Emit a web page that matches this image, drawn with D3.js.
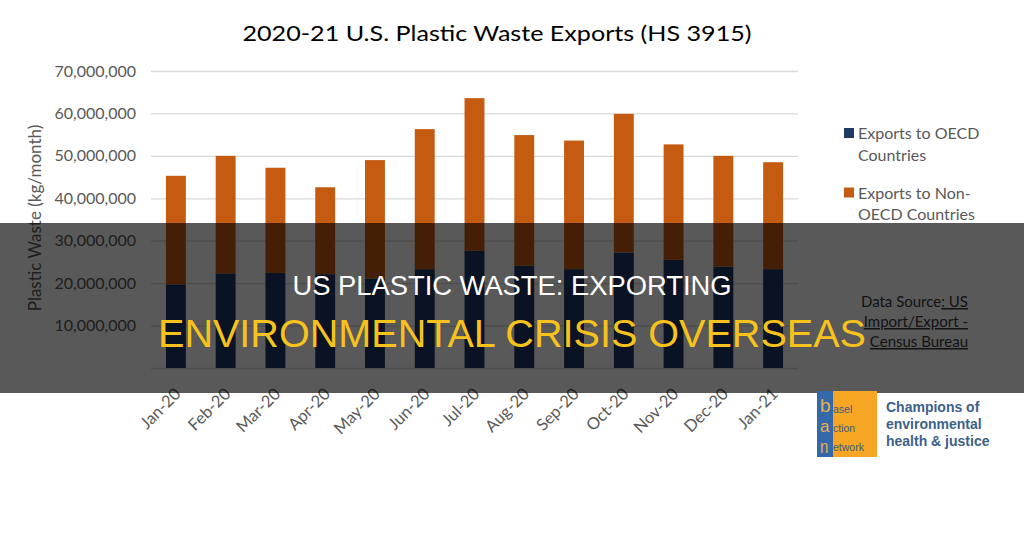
<!DOCTYPE html>
<html>
<head>
<meta charset="utf-8">
<script src="https://cdn.jsdelivr.net/npm/d3@7"></script>
<style>
  html, body { margin: 0; padding: 0; background: #fff; }
  svg { display: block; }
</style>
</head>
<body>
<svg id="chart" width="1024" height="536"></svg>
<script>
// ---- data ----
const months = ["Jan-20","Feb-20","Mar-20","Apr-20","May-20","Jun-20","Jul-20","Aug-20","Sep-20","Oct-20","Nov-20","Dec-20","Jan-21"];
const oecd    = [19.7, 22.3, 22.4, 22.1, 21.1, 23.3, 27.6, 24.1, 23.3, 27.2, 25.5, 23.9, 23.3].map(v => v * 1e6);
const totals  = [45.3, 50.0, 47.2, 42.6, 49.0, 56.3, 63.6, 54.9, 53.6, 59.9, 52.7, 50.0, 48.5].map(v => v * 1e6);
const nonOecd = totals.map((t, i) => t - oecd[i]);
const yTicks  = [0, 10e6, 20e6, 30e6, 40e6, 50e6, 60e6, 70e6];
const seriesNames = ["Exports to OECD Countries", "Exports to Non-OECD Countries"];
const seriesColors = ["#1f3864", "#c55a11"];
const title = "2020-21 U.S. Plastic Waste Exports (HS 3915)";
const yTitle = "Plastic Waste (kg/month)";
const sourceLines = [["Data Source", ": US"], ["", "Import/Export -"], ["", "Census Bureau"]];
const bannerLine1 = "US PLASTIC WASTE: EXPORTING";
const bannerLine2 = "ENVIRONMENTAL CRISIS OVERSEAS";
const logoTag = ["Champions of", "environmental", "health & justice"];

const svg = d3.select("#chart");
const labelFont = "Lato, 'Open Sans', sans-serif";
const grey = "#595959";

const x = d3.scaleBand().domain(months).range([151, 798]).paddingInner(0.6).paddingOuter(0.3);
const y = d3.scaleLinear().domain([0, 70e6]).range([368, 71]);

// title
svg.append("text").attr("x", 497).attr("y", 41).attr("text-anchor", "middle")
  .attr("font-family", labelFont).attr("font-size", 22).attr("fill", "#000")
  .attr("textLength", 509).attr("lengthAdjust", "spacingAndGlyphs").text(title);

// gridlines
const yAxis = d3.axisLeft(y).tickValues(yTicks).tickSize(-(798 - 151)).tickFormat(d => d === 0 ? "" : d3.format(",")(d)).tickPadding(15);
const gy = svg.append("g").attr("transform", "translate(151,0)").call(yAxis);
gy.select(".domain").remove();
gy.selectAll(".tick line").attr("stroke", "#d9d9d9").attr("stroke-width", 1.3);
gy.selectAll(".tick text").attr("font-family", labelFont).attr("font-size", 16).attr("fill", grey);

// y title
svg.append("text").attr("transform", "translate(41,218) rotate(-90)").attr("text-anchor", "middle")
  .attr("font-family", labelFont).attr("font-size", 17).attr("fill", grey).text(yTitle);

// bars
const stackData = months.map((m, i) => ({ m, oecd: oecd[i], non: nonOecd[i] }));
const stack = d3.stack().keys(["oecd", "non"])(stackData);
svg.append("g").selectAll("g").data(stack).join("g")
  .attr("fill", (d, i) => seriesColors[i])
  .selectAll("rect").data(d => d).join("rect")
  .attr("x", d => x(d.data.m))
  .attr("width", x.bandwidth())
  .attr("y", d => y(d[1]))
  .attr("height", d => y(d[0]) - y(d[1]));

// x labels
const xAxis = d3.axisBottom(x).tickSize(0);
const gx = svg.append("g").attr("transform", "translate(0,368)").call(xAxis);
gx.select(".domain").remove();
gx.selectAll(".tick text")
  .attr("font-family", labelFont).attr("font-size", 16.5).attr("fill", grey)
  .attr("text-anchor", "end")
  .attr("dy", 0).attr("y", 0)
  .attr("transform", "translate(6,27) rotate(-45)");

// legend
const legend = svg.append("g");
const legLines = [["Exports to OECD", "Countries"], ["Exports to Non-", "OECD Countries"]];
legLines.forEach((lines, i) => {
  const yy = 139 + i * 59.5;
  legend.append("rect").attr("x", 844).attr("y", yy - 11).attr("width", 10).attr("height", 10).attr("fill", seriesColors[i]);
  lines.forEach((ln, j) => {
    legend.append("text").attr("x", 858).attr("y", yy + j * 21.5)
      .attr("font-family", labelFont).attr("font-size", 16).attr("fill", grey).text(ln);
  });
});

// data source
const src = svg.append("g");
sourceLines.forEach((ln, j) => {
  const tx = src.append("text").attr("x", 968).attr("y", 307 + j * 20).attr("text-anchor", "end")
    .attr("font-family", labelFont).attr("font-size", 15).attr("fill", "#3a3a3a");
  if (ln[0]) tx.append("tspan").text(ln[0]);
  tx.append("tspan").attr("text-decoration", "underline").text(ln[1]);
});

// banner overlay
svg.append("rect").attr("x", 0).attr("y", 223).attr("width", 1024).attr("height", 170).attr("fill", "#000").attr("opacity", 0.65);
svg.append("text").attr("x", 512).attr("y", 295).attr("text-anchor", "middle")
  .attr("font-family", "'Liberation Sans', Arial, sans-serif").attr("font-size", 27).attr("fill", "#ffffff")
  .attr("textLength", 439).attr("lengthAdjust", "spacingAndGlyphs").text(bannerLine1);
svg.append("text").attr("x", 512).attr("y", 347).attr("text-anchor", "middle")
  .attr("font-family", "'Liberation Sans', Arial, sans-serif").attr("font-size", 38).attr("fill", "#f7c21b")
  .attr("textLength", 708).attr("lengthAdjust", "spacingAndGlyphs").text(bannerLine2);

// BAN logo
const logo = svg.append("g");
logo.append("rect").attr("x", 832).attr("y", 391).attr("width", 45).attr("height", 66).attr("fill", "#f6a623");
logo.append("rect").attr("x", 817).attr("y", 391).attr("width", 16).attr("height", 66).attr("fill", "#3568a8");
[["b", 412, 1.0, 19, "asel", 413], ["a", 432, 1.0, 17, "ction", 432], ["n", 453, 1.2, 15, "etwork", 451]].forEach(d => {
  logo.append("text").attr("transform", `translate(820,${d[1]}) scale(1,${d[2]})`)
    .attr("font-family", "'Liberation Sans', Arial, sans-serif")
    .attr("font-size", d[3]).attr("fill", "#e9b04c").text(d[0]);
  logo.append("text").attr("x", 833).attr("y", d[5]).attr("font-family", "'Liberation Sans', Arial, sans-serif")
    .attr("font-size", 10.5).attr("fill", "#3d5a80").text(d[4]);
});
logoTag.forEach((ln, j) => {
  logo.append("text").attr("x", 886).attr("y", 412 + j * 17).attr("font-family", "'Liberation Sans', Arial, sans-serif")
    .attr("font-weight", "bold").attr("font-size", 14).attr("fill", "#3d6189").text(ln);
});
</script>
</body>
</html>
